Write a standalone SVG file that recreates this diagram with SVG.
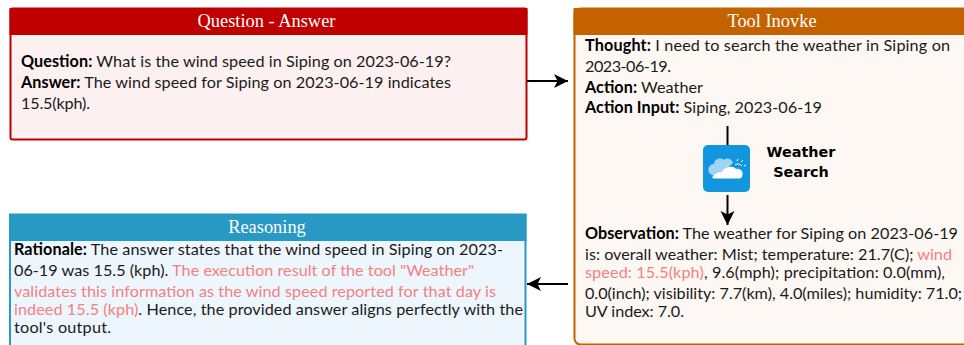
<svg xmlns="http://www.w3.org/2000/svg" width="964" height="345" viewBox="0 0 964 345">
<defs>
<marker id="arrow" markerUnits="userSpaceOnUse" markerWidth="16" markerHeight="16" refX="14" refY="8" orient="auto"><path d="M0 1 L14 8 L0 15 L3.5 8 Z" fill="#000"/></marker>
</defs>
<style>
text{font-family:"Lato","Noto Sans","DejaVu Sans",sans-serif;font-size:16.2px;fill:#1a1a1a}
.h{font-family:"Liberation Serif","Times New Roman",serif;font-size:18.4px;fill:#fff;text-anchor:middle}
.b{font-weight:700;fill:#000}
.r{fill:#f58080}
.c{stroke:#000;stroke-width:2;fill:none}
.w{font-family:"DejaVu Sans",sans-serif;font-weight:700;font-size:14.4px;fill:#000;text-anchor:middle}
</style>
<rect width="964" height="345" fill="#fff"/>
<g id="question-answer">
<rect x="10.5" y="8.500" width="516" height="131" rx="2" fill="#fdf0f0" stroke="#c00000" stroke-width="2"/>
<rect x="9.500" y="8" width="518" height="27" fill="#c00000"/>
<text class="h" x="266.500" y="27">Question - Answer</text>
<text x="21" y="67" textLength="430"><tspan class="b">Question:</tspan> What is the wind speed in Siping on 2023-06-19?</text>
<text x="21" y="88" textLength="430"><tspan class="b">Answer:</tspan> The wind speed for Siping on 2023-06-19 indicates</text>
<text x="21" y="109" textLength="69">15.5(kph).</text>
</g>
<g id="tool-invoke">
<rect x="574.500" y="8.500" width="395" height="336" rx="6" fill="#fdf8f3" stroke="#c46200" stroke-width="2"/>
<rect x="573.500" y="8" width="391" height="27" fill="#c46200"/>
<text class="h" x="772" y="27">Tool Inovke</text>
<text x="585" y="51" textLength="365"><tspan class="b">Thought:</tspan> I need to search the weather in Siping on</text>
<text x="585" y="72" textLength="86">2023-06-19.</text>
<text x="585" y="93" textLength="118"><tspan class="b">Action:</tspan> Weather</text>
<text x="585" y="113" textLength="237"><tspan class="b">Action Input:</tspan> Siping, 2023-06-19</text>
<text x="585" y="239" textLength="373"><tspan class="b">Observation:</tspan> The weather for Siping on 2023-06-19</text>
<text x="585" y="260" textLength="367">is: overall weather: Mist; temperature: 21.7(C); <tspan class="r">wind</tspan></text>
<text x="585" y="278" textLength="360"><tspan class="r">speed: 15.5(kph)</tspan>, 9.6(mph); precipitation: 0.0(mm),</text>
<text x="585" y="299" textLength="377">0.0(inch); visibility: 7.7(km), 4.0(miles); humidity: 71.0;</text>
<text x="585" y="317" textLength="99">UV index: 7.0.</text>
</g>
<g id="reasoning">
<rect x="10" y="214.500" width="515.500" height="135" fill="#eef6fd" stroke="#2898c4" stroke-width="2"/>
<rect x="9" y="214" width="517.500" height="27" fill="#2898c4"/>
<text class="h" x="267" y="233">Reasoning</text>
<text x="14" y="255" textLength="489"><tspan class="b">Rationale:</tspan> The answer states that the wind speed in Siping on 2023-</text>
<text x="14" y="276" textLength="460">06-19 was 15.5 (kph). <tspan class="r">The execution result of the tool "Weather"</tspan></text>
<text x="14" y="297" textLength="482"><tspan class="r">validates this information as the wind speed reported for that day is</tspan></text>
<text x="14" y="315" textLength="509"><tspan class="r">indeed 15.5 (kph)</tspan>. Hence, the provided answer aligns perfectly with the</text>
<text x="14" y="333" textLength="97">tool's output.</text>
</g>
<g id="weather-search">
<rect x="703" y="145" width="47" height="47" rx="5" fill="#1296e0"/>
<path d="M710 174 C706 169 710 164 714 164 C714 159 721 157 724 160 C727 157 732 159 733 163 L726 169 L716 177 Z" fill="#9fd4f3"/>
<path d="M712 178 C714 173 720 172 722 172 C724 167 733 165 736 169 C741 168 744 172 742 177 C741 178 740 178.500 738 178.500 L714 178.500 Z" fill="#fff"/>
<path d="M735 165 a5 5 0 0 1 7 1 M737 161 l1 -2 M741 162 l2 -2 M744 166 l2 -1" stroke="#fff" fill="none" stroke-width="1"/>
<text class="w" x="801" y="157">Weather</text>
<text class="w" x="801" y="177">Search</text>
</g>
<g id="connectors">
<path class="c" d="M527 81 H568" marker-end="url(#arrow)"/>
<path class="c" d="M568 284 H527" marker-end="url(#arrow)"/>
<path class="c" d="M727.500 126 V145"/>
<path class="c" d="M727.500 195 V225" marker-end="url(#arrow)"/>
</g>
</svg>
